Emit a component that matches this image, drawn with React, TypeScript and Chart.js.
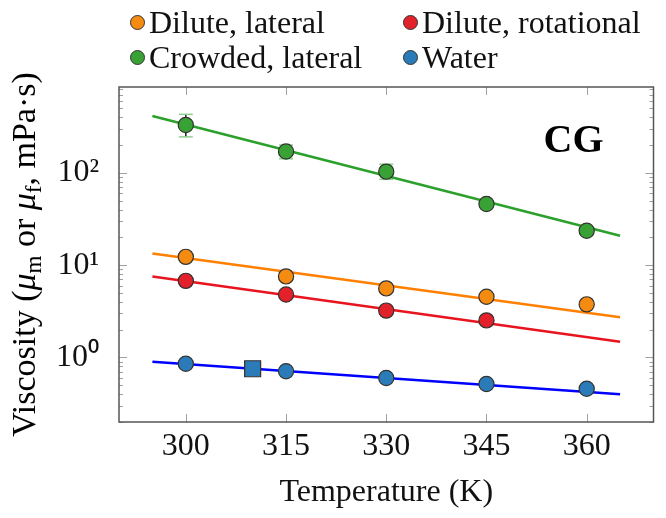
import React, { useEffect, useRef } from 'react';
import { Chart, registerables } from 'chart.js';

Chart.register(...registerables);

// ---------- data ----------
const temperatures = [300, 315, 330, 345, 360];
const diluteLateral = [12.3, 7.55, 5.6, 4.54, 3.76];
const diluteRotationalT = [300, 315, 330, 345];
const diluteRotational = [6.76, 4.8, 3.22, 2.52];
const crowdedLateral = [330, 170, 103, 46, 23.6];
const crowdedLow = [245, 142, 85, 42, 21.5];
const crowdedHigh = [430, 200, 124, 50, 26];
const water = [0.855, 0.71, 0.6, 0.515, 0.459];
const waterRefT = [310];
const waterRef = [0.755];

const fitT = [295, 365];
const fitDiluteLateral = [13.4, 2.72];
const fitDiluteRotational = [7.55, 1.48];
const fitCrowdedLateral = [413, 20.8];
const fitWater = [0.9, 0.4];

const xTicks = [300, 315, 330, 345, 360];
const yTicks = [1, 10, 100];
const yTickLabels = ['10\u2070', '10\u00B9', '10\u00B2'];

const seriesNames = ['Dilute, lateral', 'Dilute, rotational', 'Crowded, lateral', 'Water'];
const markerColors = ['#F68B12', '#E2212A', '#39A235', '#2B7BB9'];
const lineColors = ['#FF8000', '#E8141E', '#2CA02C', '#0000FF'];

const FONT = '"Liberation Serif", "Times New Roman", serif';

const pts = (xs: number[], ys: number[]) => xs.map((x, i) => ({ x, y: ys[i] }));

const frameAndTicks = {
  id: 'frameAndTicks',
  beforeDatasetsDraw(chart: any) {
    const { ctx, chartArea: a, scales } = chart;
    const x = scales.x;
    const y = scales.y;
    ctx.save();
    ctx.strokeStyle = '#a0a0a0';
    ctx.lineWidth = 1;
    const seg = (x1: number, y1: number, x2: number, y2: number) => {
      ctx.beginPath();
      ctx.moveTo(x1, y1);
      ctx.lineTo(x2, y2);
      ctx.stroke();
    };
    for (const t of xTicks) {
      const px = Math.round(x.getPixelForValue(t)) + 0.5;
      seg(px, a.bottom, px, a.bottom - 8);
      seg(px, a.top, px, a.top + 8);
    }
    for (let d = -1; d <= 2; d++) {
      for (let m = 1; m <= 9; m++) {
        const v = m * Math.pow(10, d);
        if (v < y.min || v > y.max) continue;
        const py = Math.round(y.getPixelForValue(v)) + 0.5;
        const len = m === 1 ? 8 : 4;
        seg(a.left, py, a.left + len, py);
        seg(a.right, py, a.right - len, py);
      }
    }
    // error bars for crowded lateral
    temperatures.forEach((t, i) => {
      const px = x.getPixelForValue(t);
      const lo = y.getPixelForValue(crowdedLow[i]);
      const hi = y.getPixelForValue(crowdedHigh[i]);
      ctx.strokeStyle = '#1a1a1a';
      ctx.lineWidth = 1.5;
      seg(px, lo, px, hi);
      ctx.strokeStyle = '#8fd08f';
      ctx.lineWidth = 1.5;
      seg(px - 7, lo, px + 7, lo);
      seg(px - 7, hi, px + 7, hi);
    });
    ctx.restore();
  },
  afterDraw(chart: any) {
    const { ctx, chartArea: a } = chart;
    ctx.save();
    ctx.strokeStyle = '#555';
    ctx.lineWidth = 1.5;
    ctx.strokeRect(a.left, a.top, a.right - a.left, a.bottom - a.top);

    // panel label
    ctx.fillStyle = '#000';
    ctx.font = 'bold 40px ' + FONT;
    ctx.textAlign = 'center';
    ctx.textBaseline = 'alphabetic';
    ctx.fillText('CG', a.right - 80, a.top + 65);

    // y axis title with italic mu and subscripts
    const segs = [
      { t: 'Viscosity (', f: '34px ' + FONT, dy: 0 },
      { t: '\u03BC', f: 'italic 34px ' + FONT, dy: 0 },
      { t: 'm', f: '23px ' + FONT, dy: 6 },
      { t: ' or ', f: '34px ' + FONT, dy: 0 },
      { t: '\u03BC', f: 'italic 34px ' + FONT, dy: 0 },
      { t: 'f', f: '23px ' + FONT, dy: 6 },
      { t: ', mPa\u00B7s)', f: '34px ' + FONT, dy: 0 },
    ];
    let total = 0;
    const widths = segs.map((s) => {
      ctx.font = s.f;
      const w = ctx.measureText(s.t).width;
      total += w;
      return w;
    });
    ctx.translate(35, (a.top + a.bottom) / 2);
    ctx.rotate(-Math.PI / 2);
    ctx.textAlign = 'left';
    let cx = -total / 2;
    segs.forEach((s, i) => {
      ctx.font = s.f;
      ctx.fillText(s.t, cx, s.dy);
      cx += widths[i];
    });
    ctx.restore();
  },
};

function Legend() {
  const lefts = [130, 403];
  const tops = [22, 57];
  return (
    <>
      {seriesNames.map((name, i) => (
        <div
          key={name}
          style={{
            position: 'absolute',
            left: lefts[i % 2],
            top: tops[Math.floor(i / 2)] - 18,
            height: 36,
            display: 'flex',
            alignItems: 'center',
            fontFamily: FONT,
            fontSize: 32,
            lineHeight: '36px',
            color: '#111',
            whiteSpace: 'nowrap',
          }}
        >
          <span
            style={{
              display: 'inline-block',
              width: 13,
              height: 13,
              borderRadius: '50%',
              background: markerColors[i],
              border: '1px solid #333',
              marginRight: 4,
            }}
          />
          <span>{name}</span>
        </div>
      ))}
    </>
  );
}

export default function App() {
  const ref = useRef<HTMLCanvasElement | null>(null);

  useEffect(() => {
    if (!ref.current) return;
    const pointStyle = (i: number) => ({
      backgroundColor: markerColors[i],
      borderColor: '#333',
      borderWidth: 1.2,
      pointRadius: 7.6,
      pointHoverRadius: 7.6,
      showLine: false,
      order: 0,
    });
    const fitStyle = (i: number) => ({
      borderColor: lineColors[i],
      borderWidth: 2.5,
      pointRadius: 0,
      showLine: true,
      fill: false,
      order: 1,
    });
    const chart = new Chart(ref.current, {
      type: 'scatter',
      data: {
        datasets: [
          { label: seriesNames[0], data: pts(temperatures, diluteLateral), ...pointStyle(0) },
          { label: seriesNames[1], data: pts(diluteRotationalT, diluteRotational), ...pointStyle(1) },
          { label: seriesNames[2], data: pts(temperatures, crowdedLateral), ...pointStyle(2) },
          { label: seriesNames[3], data: pts(temperatures, water), ...pointStyle(3) },
          {
            label: 'Water (reference)',
            data: pts(waterRefT, waterRef),
            ...pointStyle(3),
            pointStyle: 'rect',
            pointRadius: 11.3,
          },
          { label: 'Fit ' + seriesNames[0], data: pts(fitT, fitDiluteLateral), ...fitStyle(0) },
          { label: 'Fit ' + seriesNames[1], data: pts(fitT, fitDiluteRotational), ...fitStyle(1) },
          { label: 'Fit ' + seriesNames[2], data: pts(fitT, fitCrowdedLateral), ...fitStyle(2) },
          { label: 'Fit ' + seriesNames[3], data: pts(fitT, fitWater), ...fitStyle(3) },
        ] as any,
      },
      options: {
        animation: false,
        responsive: false,
        layout: { padding: { top: 87, right: 6, left: 0, bottom: 0 } },
        plugins: {
          legend: { display: false },
          tooltip: { enabled: false },
        },
        scales: {
          x: {
            type: 'linear',
            min: 290,
            max: 370,
            grid: { display: false },
            border: { display: false },
            afterBuildTicks: (s: any) => {
              s.ticks = xTicks.map((v) => ({ value: v }));
            },
            afterFit: (s: any) => {
              s.height = 96;
            },
            ticks: {
              autoSkip: false,
              maxRotation: 0,
              padding: -3,
              color: '#111',
              font: { family: FONT, size: 32 },
              callback: (v: any) => String(v),
            },
            title: {
              display: true,
              text: 'Temperature (K)',
              color: '#111',
              font: { family: FONT, size: 32 },
              padding: { top: 0, bottom: 6 },
            },
          },
          y: {
            type: 'logarithmic',
            min: 0.2,
            max: 850,
            grid: { display: false },
            border: { display: false },
            afterBuildTicks: (s: any) => {
              s.ticks = yTicks.map((v) => ({ value: v }));
            },
            afterFit: (s: any) => {
              s.width = 119;
            },
            ticks: {
              autoSkip: false,
              padding: 12,
              color: '#111',
              font: { family: FONT, size: 32 },
              callback: (v: any) => {
                const idx = yTicks.indexOf(Number(v));
                return idx >= 0 ? yTickLabels[idx] : '';
              },
            },
          },
        },
      } as any,
      plugins: [frameAndTicks],
    });
    return () => chart.destroy();
  }, []);

  return (
    <div style={{ position: 'absolute', left: 0, top: 0, width: 666, height: 518, background: '#fff', overflow: 'hidden' }}>
      <canvas ref={ref} width={666} height={518} style={{ position: 'absolute', left: 0, top: 0 }} />
      <Legend />
    </div>
  );
}
